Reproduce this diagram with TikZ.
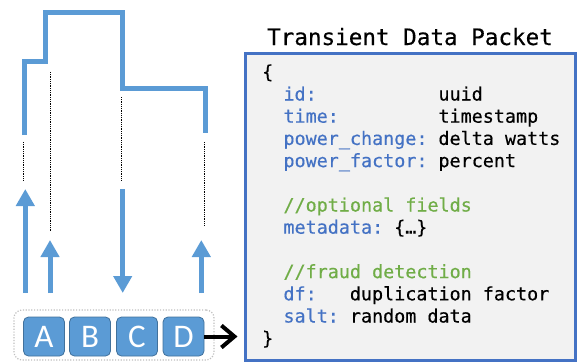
\documentclass[tikz,border=0pt]{standalone}
\usepackage{fontspec}
\usetikzlibrary{arrows.meta}
\newfontfamily\codefont[FakeBold=0.4]{DejaVu Sans Mono}
\newfontfamily\letterfont{Carlito}
\definecolor{flowblue}{HTML}{5B9BD5}
\definecolor{boxedge}{HTML}{41719C}
\definecolor{frameblue}{HTML}{4472C4}
\definecolor{keyblue}{HTML}{4472C4}
\definecolor{commentgreen}{HTML}{70AD47}
\definecolor{panelgray}{HTML}{F2F2F2}
\definecolor{groupgray}{HTML}{BFBFBF}
\begin{document}
\begin{tikzpicture}[x=1pt,y=-1pt,
  flow/.style={draw=flowblue, line width=5pt},
  flowarrow/.style={draw=flowblue, fill=flowblue, line width=5pt,
    -{Triangle[width=18pt,length=17pt]}},
  guide/.style={draw=black, line width=0.7pt, dash pattern=on 0.9pt off 0.9pt},
  letterbox/.style={rectangle, rounded corners=5pt, fill=flowblue, draw=boxedge,
    line width=0.8pt, minimum width=41pt, minimum height=39pt, inner sep=0pt,
    text=white, font=\letterfont\fontsize{33}{33}\selectfont},
  group/.style={rectangle, rounded corners=8pt, draw=groupgray, line width=1.2pt,
    dash pattern=on 1.2pt off 1.6pt, minimum width=200pt, minimum height=50pt},
  pointer/.style={draw=black, line width=4pt, -{Straight Barb[length=13pt,width=22pt]}},
  packet/.style={rectangle, draw=frameblue, fill=panelgray, line width=3pt,
    outer sep=0pt, inner sep=0pt, minimum width=330pt, minimum height=307pt},
  codeline/.style={anchor=base west, inner sep=0pt,
    font=\codefont\fontsize{18.4}{22}\selectfont},
  key/.style={codeline, text=keyblue},
  comment/.style={codeline, text=commentgreen},
  title/.style={anchor=base, inner sep=0pt, font=\codefont\fontsize{22.6}{26}\selectfont}
]
\useasboundingbox (0,0) rectangle (577,362);

% stepped signal trace
\draw[flow] (24,135) -- (24,61.5) -- (45.5,61.5) -- (45.5,12.5)
  -- (122.5,12.5) -- (122.5,88.5) -- (205,88.5) -- (205,133);

% guide lines
\draw[guide] (23.7,142) -- (23.7,180);
\draw[guide] (50,72) -- (50,232);
\draw[guide] (121.7,97) -- (121.7,180);
\draw[guide] (204,142) -- (204,225);

% event arrows
\coordinate (a1s) at (25.3,293);  \coordinate (a1e) at (25.3,189);
\coordinate (a2s) at (50,293);    \coordinate (a2e) at (50,240);
\coordinate (a3s) at (122.7,189); \coordinate (a3e) at (122.7,293);
\coordinate (a4s) at (201.3,293); \coordinate (a4e) at (201.3,240);
\draw[flowarrow] (a1s) -- (a1e);
\draw[flowarrow] (a2s) -- (a2e);
\draw[flowarrow] (a3s) -- (a3e);
\draw[flowarrow] (a4s) -- (a4e);

% packet sequence
\node[group] (seq) at (114,335) {};
\node[letterbox] (A) at (44,336.5) {A};
\node[letterbox] (B) at (90,336.5) {B};
\node[letterbox] (C) at (137,336.5) {C};
\node[letterbox] (D) at (183.5,336.5) {D};

% packet panel
\node[packet, anchor=north west] (packet) at (245.5,53.5) {};
\node[title] (ttl) at (410,45) {Transient Data Packet};

\draw[pointer, shorten >=8pt] (D.east) -- (packet.west |- D.east);

% packet fields
\node[codeline] (open) at (262,78.3) {\{};
\node[key] (k1) at (283.3,100.5) {id:};
\node[codeline] (v1) at (438.3,100.5) {uuid};
\node[key] (k2) at (283.3,122.7) {time:};
\node[codeline] (v2) at (438.3,122.7) {timestamp};
\node[key] (k3) at (283.3,144.9) {power\_change:};
\node[codeline] (v3) at (438.3,144.9) {delta watts};
\node[key] (k4) at (283.3,167.1) {power\_factor:};
\node[codeline] (v4) at (438.3,167.1) {percent};
\node[comment] (c1) at (283.3,211.5) {//optional fields};
\node[key] (k5) at (283.3,233.7) {metadata:};
\node[codeline] (v5) at (394,233.7) {\{…\}};
\node[comment] (c2) at (283.3,278.1) {//fraud detection};
\node[key] (k6) at (283.3,300.3) {df:};
\node[codeline] (v6) at (349.7,300.3) {duplication factor};
\node[key] (k7) at (283.3,322.5) {salt:};
\node[codeline] (v7) at (349.7,322.5) {random data};
\node[codeline] (close) at (262,344.7) {\}};
\end{tikzpicture}
\end{document}
